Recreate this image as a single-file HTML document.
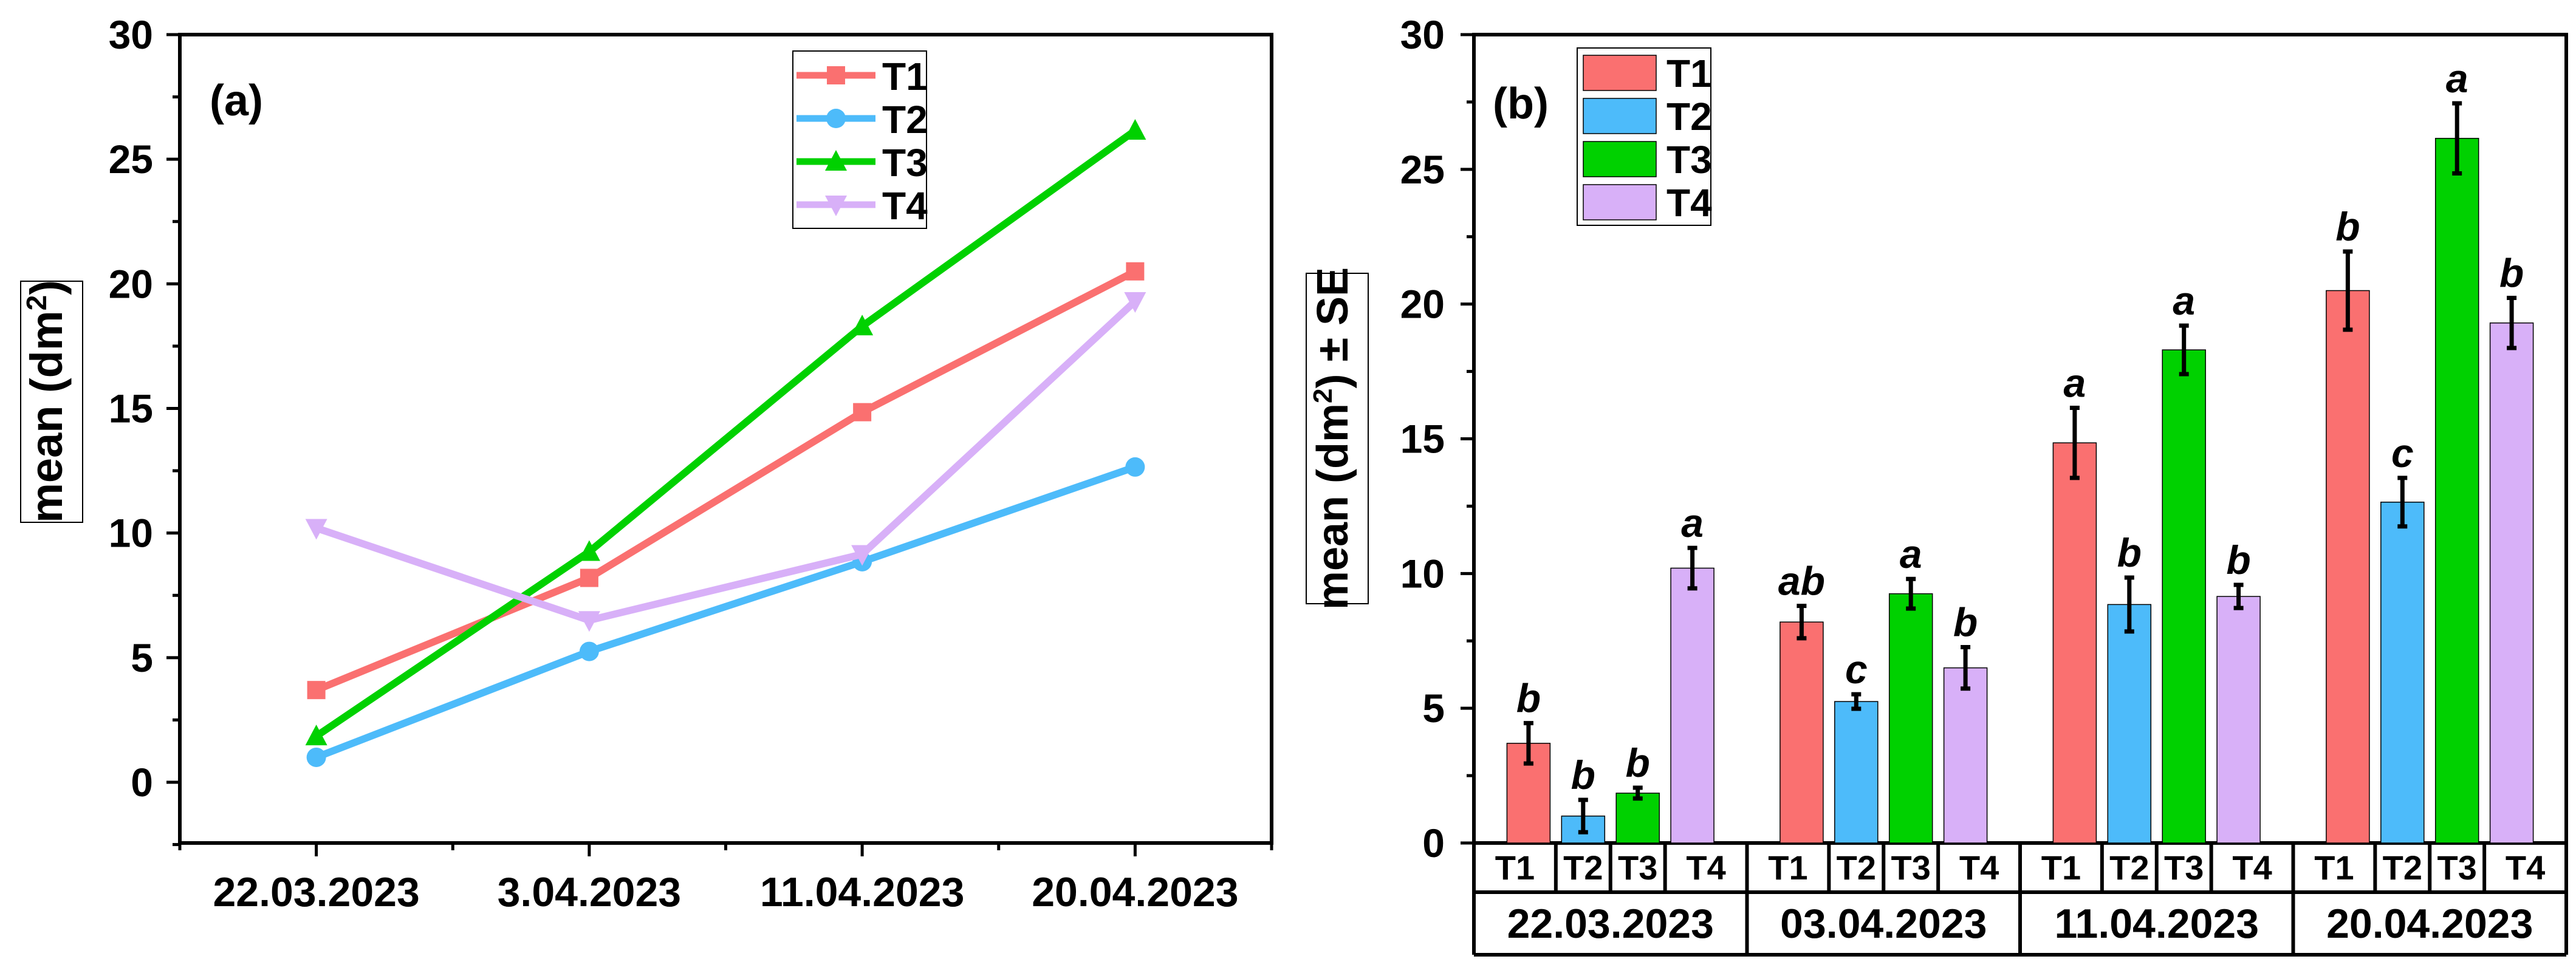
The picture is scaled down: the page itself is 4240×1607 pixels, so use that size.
<!DOCTYPE html>
<html><head><meta charset="utf-8">
<style>
html,body{margin:0;padding:0;background:#fff;}
svg{display:block;}
text{font-family:"Liberation Sans Narrow","Liberation Sans",sans-serif;font-weight:bold;fill:#000;}
.reg{font-family:"Liberation Sans",sans-serif;}
</style></head>
<body>
<svg id="fig" xmlns="http://www.w3.org/2000/svg" width="4240" height="1607" viewBox="0 0 4240 1607">
<g id="pa"></g>
<g id="pb"></g>
</svg>
<script>
const dates = ["22.03.2023","3.04.2023","11.04.2023","20.04.2023"];
const datesB = ["22.03.2023","03.04.2023","11.04.2023","20.04.2023"];
const series = ["T1","T2","T3","T4"];
const t1 = [3.7, 8.2, 14.85, 20.5];
const t2 = [1.0, 5.25, 8.85, 12.65];
const t3 = [1.85, 9.25, 18.3, 26.15];
const t4 = [10.2, 6.5, 9.15, 19.3];
const se1 = [0.75, 0.6, 1.3, 1.45];
const se2 = [0.6, 0.27, 1.0, 0.9];
const se3 = [0.2, 0.55, 0.9, 1.3];
const se4 = [0.75, 0.77, 0.43, 0.93];
const letters1 = ["b","ab","a","b"];
const letters2 = ["b","c","b","c"];
const letters3 = ["b","a","a","a"];
const letters4 = ["a","b","b","b"];
const yTicks = [0,5,10,15,20,25,30];

const vals=[t1,t2,t3,t4], ses=[se1,se2,se3,se4], lets=[letters1,letters2,letters3,letters4];
const colors=["#FA7070","#4DBBFA","#00D100","#D8B0F8"];
const NS="http://www.w3.org/2000/svg";
function mk(parent,tag,attrs,txt){const e=document.createElementNS(NS,tag);for(const k in attrs)e.setAttribute(k,attrs[k]);if(txt!==undefined)e.textContent=txt;parent.appendChild(e);return e;}

// ---------- Panel A ----------
const pa=document.getElementById('pa');
const aL=296,aR=2093,aT=57,aB=1388;
const xa=i=>aL+(i+0.5)*(aR-aL)/4;
const ya=v=>1288-v*(1288-57)/30;
let e;
e=mk(pa,'rect',{x:aL,y:aT,width:aR-aL,height:aB-aT,fill:'none',stroke:'#000','stroke-width':6});


for(let v=-2.5;v<=30;v+=2.5){
  const major=(v%5===0);
  e=mk(pa,'line',{x1:aL,x2:aL-(major?22:12),y1:ya(v),y2:ya(v),stroke:'#000','stroke-width':5});
  
  
}
yTicks.forEach(v=>{
  e=mk(pa,'text',{x:252,y:ya(v)+23,'text-anchor':'end','font-size':66},String(v));
  
  
});
for(let i=0;i<=8;i++){
  const xx=aL+i*(aR-aL)/8, major=(i%2===1);
  e=mk(pa,'line',{x1:xx,x2:xx,y1:aB,y2:aB+(major?22:12),stroke:'#000','stroke-width':5});
  
  
}
dates.forEach((d,i)=>{
  e=mk(pa,'text',{x:xa(i),y:1492,'text-anchor':'middle','font-size':68},d);
  
  
});
e=mk(pa,'rect',{x:34,y:463,width:102,height:397,fill:'#fff',stroke:'#000','stroke-width':2});


e=mk(pa,'text',{class:'reg',transform:'translate(102,661) rotate(-90)','text-anchor':'middle','font-size':74});


e.innerHTML='mean (dm<tspan dy="-26" font-size="46">2</tspan><tspan dy="26">)</tspan>';
e=mk(pa,'text',{x:345,y:190,'font-size':72,class:'reg'},'(a)');



function marker(g,k,cx,cy,col){
  const s=15;let m;
  if(k===0)m=mk(g,'rect',{x:cx-s,y:cy-s,width:2*s,height:2*s,fill:col});
  else if(k===1)m=mk(g,'circle',{cx:cx,cy:cy,r:s+1,fill:col});
  else if(k===2)m=mk(g,'polygon',{points:`${cx},${cy-s-4} ${cx-s-3},${cy+s} ${cx+s+3},${cy+s}`,fill:col});
  else m=mk(g,'polygon',{points:`${cx},${cy+s+4} ${cx-s-3},${cy-s} ${cx+s+3},${cy-s}`,fill:col});
  return m;
}
vals.forEach((arr,k)=>{
  const g=mk(pa,'g',{});
  
  
  e=mk(g,'polyline',{points:arr.map((v,i)=>xa(i)+','+ya(v)).join(' '),fill:'none',stroke:colors[k],'stroke-width':12,'stroke-linejoin':'round'});
  
  
  arr.forEach((v,i)=>{
    e=marker(g,k,xa(i),ya(v),colors[k]);
    
    
  });
});
// legend a
const la=mk(pa,'g',{});


e=mk(la,'rect',{x:1305,y:84,width:220,height:292,fill:'#fff',stroke:'#000','stroke-width':2});


series.forEach((s,k)=>{
  const yy=124+k*71;
  const g=mk(la,'g',{});
  
  
  mk(g,'line',{x1:1311,x2:1441,y1:yy,y2:yy,stroke:colors[k],'stroke-width':11});
  marker(g,k,1376,yy,colors[k]);
  mk(g,'text',{x:1452,y:yy+24,'font-size':64},s);
});

// ---------- Panel B ----------
const pb=document.getElementById('pb');
const bL=2426,bR=4224,bT=57,bB=1388,gW=(bR-bL)/4;
const yb=v=>bB-v*(bB-bT)/30;
const xb=(g,k)=>bL+g*gW+(k+1)*gW/5;
const bw=71;
e=mk(pb,'rect',{x:bL,y:bT,width:bR-bL,height:bB-bT,fill:'none',stroke:'#000','stroke-width':6});


for(let v=0;v<=30;v+=2.5){
  const major=(v%5===0);
  e=mk(pb,'line',{x1:bL,x2:bL-(major?22:12),y1:yb(v),y2:yb(v),stroke:'#000','stroke-width':5});
  
  
}
yTicks.forEach(v=>{
  e=mk(pb,'text',{x:2378,y:yb(v)+23,'text-anchor':'end','font-size':66},String(v));
  
  
});
vals.forEach((arr,k)=>{
  arr.forEach((v,g)=>{
    const cx=xb(g,k);
    e=mk(pb,'rect',{x:cx-bw/2,y:yb(v),width:bw,height:bB-yb(v),fill:colors[k],stroke:'#000','stroke-width':1.5});
    
    
    const s=ses[k][g];
    const eg=mk(pb,'g',{stroke:'#000','stroke-width':7});
    
    
    mk(eg,'line',{x1:cx,x2:cx,y1:yb(v+s),y2:yb(v-s)});
    mk(eg,'line',{x1:cx-8,x2:cx+8,y1:yb(v+s),y2:yb(v+s)});
    mk(eg,'line',{x1:cx-8,x2:cx+8,y1:yb(v-s),y2:yb(v-s)});
    e=mk(pb,'text',{x:cx,y:yb(v+s)-18,'text-anchor':'middle','font-size':66,'font-style':'italic',class:'reg'},lets[k][g]);
    
    
  });
});
// category table
const tb=mk(pb,'g',{stroke:'#000','stroke-width':6});


mk(tb,'line',{x1:bL,x2:bR,y1:1469,y2:1469});
mk(tb,'line',{x1:bL,x2:bR,y1:1572,y2:1572});
mk(tb,'line',{x1:bL,x2:bL,y1:bB,y2:1572});
mk(tb,'line',{x1:bR,x2:bR,y1:bB,y2:1572});
for(let g=0;g<4;g++){
  const gs=bL+g*gW;
  if(g>0)mk(tb,'line',{x1:gs,x2:gs,y1:bB,y2:1572});
  for(let k=0;k<3;k++){const xx=gs+(k+1.5)*gW/5;mk(tb,'line',{x1:xx,x2:xx,y1:bB,y2:1469});}
  series.forEach((s,k)=>{
    const x0=k===0?gs:gs+(k+0.5)*gW/5, x1=k===3?gs+gW:gs+(k+1.5)*gW/5;
    e=mk(pb,'text',{x:(x0+x1)/2,y:1448,'text-anchor':'middle','font-size':56},s);
    
    
  });
  e=mk(pb,'text',{x:gs+gW/2,y:1544,'text-anchor':'middle','font-size':68},datesB[g]);
  
  
}
e=mk(pb,'rect',{x:2150,y:450,width:102,height:544,fill:'#fff',stroke:'#000','stroke-width':2});


e=mk(pb,'text',{class:'reg',transform:'translate(2218,722) rotate(-90)','text-anchor':'middle','font-size':72});


e.innerHTML='mean (dm<tspan dy="-26" font-size="44">2</tspan><tspan dy="26">) ± SE</tspan>';
e=mk(pb,'text',{x:2457,y:195,'font-size':72,class:'reg'},'(b)');


const lb=mk(pb,'g',{});


e=mk(lb,'rect',{x:2596,y:79,width:220,height:292,fill:'#fff',stroke:'#000','stroke-width':2});


series.forEach((s,k)=>{
  const yy=91+k*71;
  const g=mk(lb,'g',{});
  
  
  mk(g,'rect',{x:2606,y:yy,width:120,height:58,fill:colors[k],stroke:'#000','stroke-width':1.5});
  mk(g,'text',{x:2743,y:yy+52,'font-size':64},s);
});
</script>
</body></html>
